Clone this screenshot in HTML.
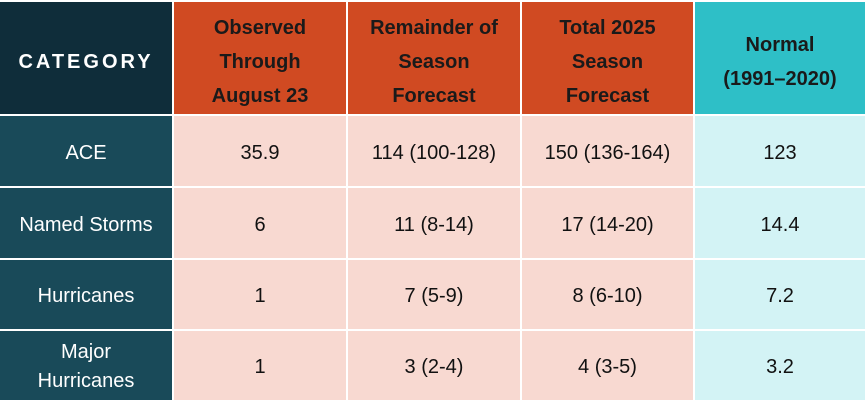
<!DOCTYPE html>
<html><head><style>
body{margin:0;width:865px;height:400px;background:#fff;overflow:hidden;font-family:"Liberation Sans",sans-serif;}
.c{position:absolute;display:flex;align-items:center;justify-content:center;text-align:center;box-sizing:border-box;font-size:20px;color:#111;line-height:34px;padding-top:3px;}
.h{font-weight:bold;padding-top:8px;color:#1a1a1a;}
</style></head><body>
<div class="c h" style="left:0;top:2px;width:172px;height:112px;background:#0f2d3a;color:#fff;letter-spacing:3px;font-size:20px">CATEGORY</div>
<div class="c h" style="left:174px;top:2px;width:172px;height:112px;background:#d04a22">Observed<br>Through<br>August 23</div>
<div class="c h" style="left:348px;top:2px;width:172px;height:112px;background:#d04a22">Remainder of<br>Season<br>Forecast</div>
<div class="c h" style="left:522px;top:2px;width:171px;height:112px;background:#d04a22">Total 2025<br>Season<br>Forecast</div>
<div class="c h" style="left:695px;top:2px;width:170px;height:112px;background:#2ebfc7">Normal<br>(1991–2020)</div>

<div class="c" style="left:0;top:116px;width:172px;height:70px;background:#194a59;color:#fff">ACE</div>
<div class="c" style="left:174px;top:116px;width:172px;height:70px;background:#f8d9d1">35.9</div>
<div class="c" style="left:348px;top:116px;width:172px;height:70px;background:#f8d9d1">114 (100-128)</div>
<div class="c" style="left:522px;top:116px;width:171px;height:70px;background:#f8d9d1">150 (136-164)</div>
<div class="c" style="left:695px;top:116px;width:170px;height:70px;background:#d3f3f5">123</div>

<div class="c" style="left:0;top:188px;width:172px;height:70px;background:#194a59;color:#fff">Named Storms</div>
<div class="c" style="left:174px;top:188px;width:172px;height:70px;background:#f8d9d1">6</div>
<div class="c" style="left:348px;top:188px;width:172px;height:70px;background:#f8d9d1">11 (8-14)</div>
<div class="c" style="left:522px;top:188px;width:171px;height:70px;background:#f8d9d1">17 (14-20)</div>
<div class="c" style="left:695px;top:188px;width:170px;height:70px;background:#d3f3f5">14.4</div>

<div class="c" style="left:0;top:260px;width:172px;height:69px;background:#194a59;color:#fff">Hurricanes</div>
<div class="c" style="left:174px;top:260px;width:172px;height:69px;background:#f8d9d1">1</div>
<div class="c" style="left:348px;top:260px;width:172px;height:69px;background:#f8d9d1">7 (5-9)</div>
<div class="c" style="left:522px;top:260px;width:171px;height:69px;background:#f8d9d1">8 (6-10)</div>
<div class="c" style="left:695px;top:260px;width:170px;height:69px;background:#d3f3f5">7.2</div>

<div class="c" style="left:0;top:331px;width:172px;height:69px;background:#194a59;color:#fff;line-height:29px">Major<br>Hurricanes</div>
<div class="c" style="left:174px;top:331px;width:172px;height:69px;background:#f8d9d1">1</div>
<div class="c" style="left:348px;top:331px;width:172px;height:69px;background:#f8d9d1">3 (2-4)</div>
<div class="c" style="left:522px;top:331px;width:171px;height:69px;background:#f8d9d1">4 (3-5)</div>
<div class="c" style="left:695px;top:331px;width:170px;height:69px;background:#d3f3f5">3.2</div>
</body></html>
